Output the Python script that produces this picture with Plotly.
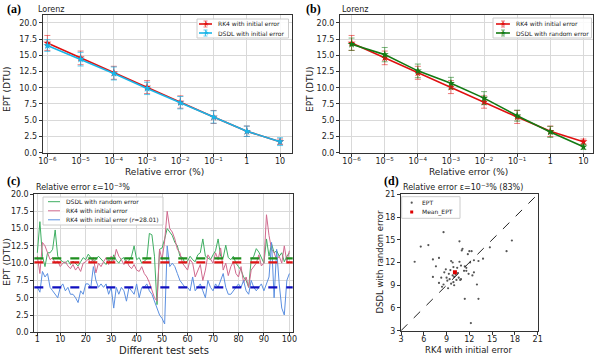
import plotly.graph_objects as go

# ---------------- data ----------------
rel_err = [1e-6, 1e-5, 1e-4, 1e-3, 1e-2, 1e-1, 1, 10]
rel_err_labels = ["10<sup>−6</sup>", "10<sup>−5</sup>", "10<sup>−4</sup>", "10<sup>−3</sup>",
                  "10<sup>−2</sup>", "10<sup>−1</sup>", "1", "10"]

rk4_mean = [16.9, 14.6, 12.3, 10.1, 7.8, 5.5, 3.3, 1.7]
rk4_err = [1.15, 1.05, 1.0, 1.0, 0.95, 1.0, 0.8, 0.4]
dsdl_init_mean = [16.5, 14.4, 12.2, 9.9, 7.7, 5.5, 3.3, 1.7]
dsdl_init_err = [0.9, 1.05, 1.0, 0.95, 0.95, 0.95, 0.8, 0.6]
dsdl_rand_mean = [16.7, 15.1, 12.6, 10.7, 8.4, 5.7, 3.2, 0.9]
dsdl_rand_err = [0.95, 1.1, 1.05, 0.9, 1.0, 0.85, 0.85, 0.4]

test_sets = list(range(1, 101))
dsdl_random = [11.5, 16.0, 11.0, 9.5, 11.5, 11.5, 12.0, 14.8, 11.0, 10.5,
               10.2, 10.0, 10.4, 9.8, 10.3, 10.0, 9.6, 10.2, 10.8, 10.5,
               11.3, 10.8, 10.2, 10.5, 11.0, 10.6, 10.2, 9.8, 10.5, 10.0,
               11.2, 10.4, 10.0, 10.6, 10.8, 10.0, 10.4, 11.0, 12.5, 10.5,
               10.8, 10.0, 10.3, 10.6, 14.3, 14.1, 11.0, 4.0, 12.0, 12.2,
               13.5, 15.0, 14.5, 14.0, 13.0, 12.5, 11.0, 10.8, 10.0, 10.3,
               11.0, 10.5, 10.2, 11.2, 11.5, 13.5, 11.0, 10.8, 10.5, 11.2,
               11.8, 13.5, 11.0, 10.8, 12.6, 10.8, 10.5, 11.0, 10.0, 9.5,
               9.0, 8.0, 7.5, 6.5, 10.5, 11.0, 12.1, 11.6, 10.8, 10.0,
               13.5, 11.0, 12.8, 11.5, 11.8, 11.0, 11.5, 10.2, 11.0, 11.5]
rk4_initial = [11.0, 8.5, 13.0, 12.5, 11.5, 10.5, 10.8, 10.0, 10.3, 9.5,
               10.0, 10.2, 9.6, 9.2, 9.8, 9.0, 9.5, 8.8, 10.0, 10.2,
               10.6, 10.0, 10.8, 8.6, 10.0, 9.5, 10.2, 10.8, 9.8, 11.0,
               10.2, 12.0, 11.0, 10.5, 9.8, 10.4, 9.6, 9.2, 9.8, 9.0,
               8.8, 9.5, 8.5, 8.0, 7.2, 6.0, 5.0, 4.5, 12.0, 10.5,
               13.2, 17.5, 15.0, 14.5, 13.5, 12.0, 11.5, 10.0, 9.5, 9.0,
               10.5, 10.0, 8.0, 9.0, 9.8, 7.5, 9.0, 11.2, 10.5, 10.0,
               11.5, 10.5, 12.2, 9.0, 10.0, 8.2, 9.5, 10.2, 8.5, 8.0,
               9.5, 7.2, 8.0, 6.5, 9.0, 9.5, 10.0, 11.2, 9.6, 10.0,
               17.0, 14.0, 12.0, 11.5, 10.5, 11.0, 10.0, 12.5, 10.2, 11.8]
rk4_r2801 = [6.5, 5.8, 8.8, 8.0, 8.5, 6.5, 6.0, 5.5, 5.0, 6.5,
             7.0, 6.0, 6.5, 5.5, 5.5, 5.0, 4.3, 6.0, 5.5, 7.0,
             7.0, 6.5, 9.5, 7.5, 6.5, 7.0, 6.5, 7.0, 5.5, 6.5,
             3.5, 6.5, 5.5, 6.5, 6.0, 4.5, 6.5, 6.0, 5.5, 7.0,
             5.0, 6.5, 6.5, 7.0, 6.0, 5.5, 4.5, 3.5, 2.5, 2.0,
             1.2, 12.5, 9.5, 10.0, 9.5, 8.5, 7.5, 7.0, 6.5, 6.5,
             6.0, 8.0, 6.0, 6.5, 7.0, 6.0, 5.0, 7.5, 6.5, 6.0,
             7.0, 6.5, 7.5, 8.5, 6.5, 5.5, 5.5, 6.0, 6.5, 7.0,
             6.5, 7.5, 6.0, 5.5, 7.5, 6.5, 6.0, 6.5, 7.0, 6.0,
             7.0, 8.0, 13.0, 5.0, 12.0, 7.0, 3.5, 2.5, 7.5, 8.5]
mean_lines = [10.7, 10.1, 6.5]  # DSDL random, RK4 initial, RK4 r=28.01

ept_rk4 = [4.8, 5.6, 6.6, 7.2, 7.2, 7.6, 8.0, 8.6, 10.7, 8.3, 8.6, 8.7, 8.9, 9.0, 9.1,
           9.3, 9.4, 9.5, 9.6, 9.8, 9.9, 9.9, 10.0, 10.2, 10.3, 10.4, 10.5, 10.6, 10.7,
           10.8, 10.9, 11.0, 11.1, 11.3, 11.4, 11.4, 11.6, 11.8, 11.9, 12.0, 12.1, 12.2,
           12.3, 12.4, 12.6, 13.0, 13.2, 13.2, 13.8, 14.7, 16.9, 17.6, 8.0, 8.4, 9.2, 9.6,
           10.0, 10.9, 11.6, 12.6, 9.8]
ept_dsdl = [12.1, 14.1, 14.3, 12.4, 10.1, 11.5, 12.6, 16.0, 14.8, 10.0, 9.1, 10.7, 11.1, 10.0, 9.6,
            10.5, 9.8, 11.0, 12.2, 10.3, 9.4, 11.4, 9.0, 10.4, 9.7, 11.3, 10.6, 10.0, 12.1,
            9.7, 11.6, 13.6, 13.8, 10.9, 11.5, 7.2, 11.3, 13.1, 10.5, 13.5, 12.0, 4.0,
            13.5, 10.3, 10.7, 9.1, 7.2, 12.2, 12.5, 14.0, 13.5, 14.9, 9.3, 8.8, 8.6, 9.2,
            10.1, 9.8, 10.9, 12.3, 12.0]

# ---------------- styling ----------------
W, H = 600, 356
FONT = "DejaVu Sans"
TXT = "#222222"
RED = "#e01010"
RED_E = "rgba(224,16,16,0.55)"
CYAN = "#19b5e8"
CYAN_E = "rgba(25,181,232,0.7)"
DGREEN = "#137a13"
DGREEN_E = "rgba(19,122,19,0.55)"
C_GREEN, C_PINK, C_BLUE = "#3fae62", "#d06a8e", "#5b8fe0"
MEAN_COLS = ["#1f8f1f", "#e01515", "#1010c0"]
GRID = "#d9d9d9"
FRAME = "#333333"

def px(x):
    return x / W

def py(y):
    return 1 - y / H

fig = go.Figure()

def err(vals, color):
    return dict(type="data", array=vals, visible=True, color=color, thickness=1, width=3)

# (a)
fig.add_trace(go.Scatter(x=rel_err, y=rk4_mean, error_y=err(rk4_err, RED_E),
                         mode="lines+markers", line=dict(color=RED, width=1.6),
                         marker=dict(symbol="star", size=6, color=RED),
                         name="RK4 with initial error", xaxis="x", yaxis="y"))
fig.add_trace(go.Scatter(x=rel_err, y=dsdl_init_mean, error_y=err(dsdl_init_err, CYAN_E),
                         mode="lines+markers", line=dict(color=CYAN, width=1.6),
                         marker=dict(symbol="star", size=6, color=CYAN),
                         name="DSDL with initial error", xaxis="x", yaxis="y"))
# (b)
fig.add_trace(go.Scatter(x=rel_err, y=rk4_mean, error_y=err(rk4_err, RED_E),
                         mode="lines+markers", line=dict(color=RED, width=1.6),
                         marker=dict(symbol="star", size=6, color=RED),
                         name="RK4 with initial error", xaxis="x2", yaxis="y2"))
fig.add_trace(go.Scatter(x=rel_err, y=dsdl_rand_mean, error_y=err(dsdl_rand_err, DGREEN_E),
                         mode="lines+markers", line=dict(color=DGREEN, width=1.6),
                         marker=dict(symbol="star", size=6, color=DGREEN),
                         name="DSDL with random error", xaxis="x2", yaxis="y2"))
# (c)
fig.add_trace(go.Scatter(x=test_sets, y=dsdl_random, mode="lines", line=dict(color=C_GREEN, width=1),
                         name="DSDL with random error", xaxis="x3", yaxis="y3"))
fig.add_trace(go.Scatter(x=test_sets, y=rk4_initial, mode="lines", line=dict(color=C_PINK, width=1),
                         name="RK4 with initial error", xaxis="x3", yaxis="y3"))
fig.add_trace(go.Scatter(x=test_sets, y=rk4_r2801, mode="lines", line=dict(color=C_BLUE, width=1),
                         name="RK4 with initial error (r=28.01)", xaxis="x3", yaxis="y3"))
for val, col in zip(mean_lines, MEAN_COLS):
    fig.add_shape(type="line", xref="x3 domain", yref="y3", x0=0, x1=1, y0=val, y1=val,
                  line=dict(color=col, width=2.2, dash="dash"))
# (d)
fig.add_trace(go.Scatter(x=ept_rk4, y=ept_dsdl, mode="markers",
                         marker=dict(size=2.2, color="#555555"),
                         name="EPT", xaxis="x4", yaxis="y4"))
fig.add_trace(go.Scatter(x=[mean_lines[1]], y=[mean_lines[0]], mode="markers",
                         marker=dict(size=4, color="#dd0000", symbol="square"),
                         name="Mean_EPT", xaxis="x4", yaxis="y4"))
fig.add_shape(type="line", xref="x4 domain", yref="y4 domain", x0=0, y0=0, x1=1, y1=1,
              line=dict(color="#222222", width=1, dash="dash"))

tickfont = dict(family=FONT, size=8, color=TXT)

def axis(domain, anchor, **kw):
    d = dict(domain=domain, anchor=anchor, showline=True, linecolor=FRAME, linewidth=1, mirror=True,
             ticks="outside", ticklen=3, tickcolor=FRAME, tickfont=tickfont, showgrid=True,
             gridcolor=GRID, gridwidth=1, zeroline=False, automargin=False)
    d.update(kw)
    return d

xa_dom, xb_dom = [px(42.7), px(291.7)], [px(340), px(593)]
top_dom = [py(152.7), py(15)]
xc_dom, yc_dom = [px(34.3), px(292.7)], [py(332.3), py(194)]
xd_dom, yd_dom = [px(401), px(537.7)], [py(330.7), py(194.3)]
ept_ticks = [0, 2.5, 5, 7.5, 10, 12.5, 15, 17.5, 20]

fig.update_layout(
    width=W, height=H, margin=dict(l=0, r=0, t=0, b=0),
    paper_bgcolor="white", plot_bgcolor="white", showlegend=False,
    xaxis=axis(xa_dom, "y", type="log", range=[-6.14, 1.35], tickvals=rel_err, ticktext=rel_err_labels,
               ticklabelstandoff=-2),
    yaxis=axis(top_dom, "x", range=[0, 21.2], tickvals=ept_ticks, tickformat=".1f"),
    xaxis2=axis(xb_dom, "y2", type="log", range=[-6.35, 1.29], tickvals=rel_err, ticktext=rel_err_labels,
                ticklabelstandoff=-2),
    yaxis2=axis(top_dom, "x2", range=[0, 21.2], tickvals=ept_ticks, tickformat=".1f"),
    xaxis3=axis(xc_dom, "y3", range=[-0.2, 101.3], tickvals=[1, 10, 20, 30, 40, 50, 60, 70, 80, 90, 100],
                ticklabelstandoff=-4),
    yaxis3=axis(yc_dom, "x3", range=[0, 20], tickvals=ept_ticks, tickformat=".1f"),
    xaxis4=axis(xd_dom, "y4", range=[3, 21], tickvals=[3, 6, 9, 12, 15, 18, 21], showgrid=False,
                ticklabelstandoff=-2),
    yaxis4=axis(yd_dom, "x4", range=[3, 21], tickvals=[3, 6, 9, 12, 15, 18, 21], showgrid=False),
)

def text(t, x, y, size, xanchor="center", angle=0, family=FONT, color=TXT):
    fig.add_annotation(text=t, x=px(x), y=py(y), xref="paper", yref="paper", xanchor=xanchor,
                       yanchor="middle", showarrow=False, textangle=angle,
                       font=dict(family=family, size=size, color=color))

# axis titles
text("Relative error (%)", 164, 172, 9)
text("Relative error (%)", 468, 172, 9)
text("Different test sets", 164, 350.5, 10)
text("RK4 with initial error", 468, 350, 8.5)
text("EPT (DTU)", 7, 89, 9, angle=-90)
text("EPT (DTU)", 310, 89, 9, angle=-90)
text("EPT (DTU)", 6, 262, 9.5, angle=-90)
text("DSDL with random error", 379, 262.5, 8.5, angle=-90)

# panel labels and subtitles
for t, x, y in [("(a)", 5, 9), ("(b)", 304, 9), ("(c)", 5, 181), ("(d)", 382, 181)]:
    text(f"<b>{t}</b>", x, y, 12, xanchor="left", family="Liberation Serif", color="black")
text("Lorenz", 36, 9, 8, xanchor="left")
text("Lorenz", 340, 9, 8, xanchor="left")
text("Relative error ε=10<sup>−3</sup>%", 34, 187, 8, xanchor="left")
text("Relative error ε=10<sup>−3</sup>% (83%)", 401, 187, 8, xanchor="left")

# ---------------- compact matplotlib-style legends ----------------
def legend_box(x0, y0, x1, y1):
    fig.add_shape(type="rect", xref="paper", yref="paper", x0=px(x0), x1=px(x1), y0=py(y1), y1=py(y0),
                  fillcolor="rgba(255,255,255,0.85)", line=dict(color="#cccccc", width=1))

def legend_errline(xa, xb, y, color, ecolor, label):
    xm = (xa + xb) / 2
    fig.add_shape(type="line", xref="paper", yref="paper", x0=px(xa), x1=px(xb), y0=py(y), y1=py(y),
                  line=dict(color=color, width=1.6))
    fig.add_shape(type="line", xref="paper", yref="paper", x0=px(xm), x1=px(xm), y0=py(y - 3), y1=py(y + 3),
                  line=dict(color=ecolor, width=1))
    for yy in (y - 3, y + 3):
        fig.add_shape(type="line", xref="paper", yref="paper", x0=px(xm - 2), x1=px(xm + 2), y0=py(yy),
                      y1=py(yy), line=dict(color=ecolor, width=1))
    text("★", xm, y, 7, color=color)
    text(label, xb + 4, y, 6, xanchor="left")

def legend_line(xa, xb, y, color, label):
    fig.add_shape(type="line", xref="paper", yref="paper", x0=px(xa), x1=px(xb), y0=py(y), y1=py(y),
                  line=dict(color=color, width=1))
    text(label, xb + 4, y, 6, xanchor="left")

legend_box(197, 19, 288.5, 38)
legend_errline(199, 212, 24, RED, RED_E, "RK4 with initial error")
legend_errline(199, 212, 33, CYAN, CYAN_E, "DSDL with initial error")

legend_box(493, 18, 591.5, 38)
legend_errline(496, 510, 24, RED, RED_E, "RK4 with initial error")
legend_errline(496, 510, 33, DGREEN, DGREEN_E, "DSDL with random error")

legend_box(43, 197, 163, 225)
legend_line(48, 60, 201.7, C_GREEN, "DSDL with random error")
legend_line(48, 60, 210.8, C_PINK, "RK4 with initial error")
legend_line(48, 60, 219.8, C_BLUE, "RK4 with initial error (<i>r</i>=28.01)")

legend_box(401.7, 196.7, 460, 218.3)
fig.add_shape(type="circle", xref="paper", yref="paper", x0=px(410.6), x1=px(412.8),
              y0=py(203.8), y1=py(201.6), fillcolor="#555555", line=dict(width=0))
text("EPT", 420, 202.7, 6, xanchor="left")
fig.add_shape(type="rect", xref="paper", yref="paper", x0=px(410.2), x1=px(413.2),
              y0=py(213.5), y1=py(210.5), fillcolor="#dd0000", line=dict(width=0))
text("Mean_EPT", 420, 212, 6, xanchor="left")

fig.write_html("out.html", config={"displayModeBar": False},
               post_script="document.body.style.margin='0';document.body.style.overflow='hidden';")
